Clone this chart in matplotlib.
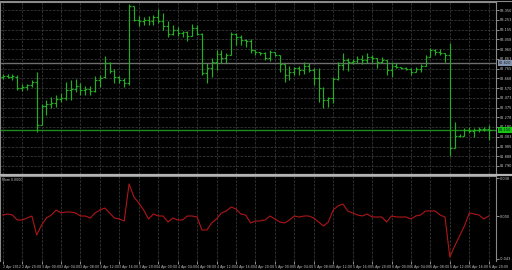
import matplotlib
matplotlib.use("Agg")
import matplotlib.pyplot as plt
import matplotlib.transforms as mtrans
from matplotlib.lines import Line2D

# ---------------- data (H1 bars) ----------------
bar_high = [82.71, 82.71, 82.71, 82.70, 82.61, 82.61, 82.65, 82.73, 82.41, 82.45,
            82.48, 82.50, 82.52, 82.63, 82.65, 82.66, 82.62, 82.59, 82.59, 82.69,
            82.70, 82.89, 82.83, 82.76, 82.69, 82.67, 83.41, 83.39, 83.29, 83.28,
            83.29, 83.30, 83.36, 83.32, 83.24, 83.20, 83.18, 83.14, 83.14, 83.21,
            83.20, 83.12, 82.82, 82.87, 82.95, 82.95, 82.92, 83.13, 83.12, 83.10,
            83.06, 83.06, 82.95, 82.93, 82.93, 82.95, 82.93, 82.90, 82.81, 82.79,
            82.78, 82.79, 82.83, 82.82, 82.77, 82.77, 82.58, 82.48, 82.68, 82.83,
            82.92, 82.87, 82.86, 82.89, 82.90, 82.92, 82.90, 82.87, 82.88, 82.85,
            82.83, 82.82, 82.78, 82.78, 82.77, 82.78, 82.81, 82.90, 82.97, 82.96,
            82.96, 82.92, 83.02, 82.23, 82.11, 82.17, 82.18, 82.17, 82.18, 82.18,
            82.20]
bar_low = [82.66, 82.67, 82.65, 82.55, 82.54, 82.55, 82.58, 82.13, 82.20, 82.30,
           82.37, 82.38, 82.43, 82.45, 82.45, 82.53, 82.50, 82.50, 82.50, 82.53,
           82.58, 82.67, 82.72, 82.62, 82.62, 82.58, 82.60, 83.24, 83.19, 83.20,
           83.20, 83.20, 83.22, 83.15, 83.08, 83.10, 83.09, 83.08, 83.04, 83.09,
           83.10, 82.70, 82.62, 82.68, 82.75, 82.82, 82.82, 82.90, 83.00, 83.00,
           82.98, 82.92, 82.90, 82.90, 82.85, 82.84, 82.89, 82.73, 82.63, 82.65,
           82.70, 82.70, 82.71, 82.73, 82.60, 82.43, 82.37, 82.38, 82.42, 82.65,
           82.75, 82.74, 82.81, 82.82, 82.81, 82.82, 82.82, 82.77, 82.82, 82.70,
           82.68, 82.77, 82.76, 82.75, 82.70, 82.73, 82.73, 82.79, 82.88, 82.90,
           82.90, 82.83, 81.89, 81.97, 82.08, 82.09, 82.12, 82.08, 82.13, 82.14,
           82.05]
bar_open = [82.68, 82.69, 82.68, 82.68, 82.57, 82.58, 82.60, 82.63, 82.20, 82.39,
            82.41, 82.42, 82.46, 82.47, 82.55, 82.56, 82.59, 82.55, 82.56, 82.54,
            82.65, 82.68, 82.82, 82.74, 82.68, 82.65, 82.62, 83.39, 83.25, 83.24,
            83.25, 83.24, 83.28, 83.24, 83.19, 83.11, 83.15, 83.12, 83.13, 83.09,
            83.17, 83.11, 82.72, 82.77, 82.83, 82.91, 82.87, 82.90, 83.11, 83.08,
            83.05, 83.04, 82.95, 82.93, 82.92, 82.87, 82.93, 82.90, 82.81, 82.70,
            82.73, 82.77, 82.75, 82.79, 82.75, 82.67, 82.57, 82.45, 82.47, 82.66,
            82.80, 82.85, 82.83, 82.84, 82.86, 82.85, 82.88, 82.87, 82.83, 82.85,
            82.75, 82.79, 82.78, 82.77, 82.76, 82.73, 82.76, 82.79, 82.88, 82.95,
            82.93, 82.92, 82.90, 81.97, 82.09, 82.09, 82.15, 82.14, 82.15, 82.16,
            82.16]
bar_close = [82.69, 82.68, 82.69, 82.57, 82.58, 82.60, 82.63, 82.20, 82.39, 82.41,
             82.42, 82.46, 82.47, 82.55, 82.56, 82.59, 82.55, 82.56, 82.54, 82.65,
             82.67, 82.82, 82.74, 82.68, 82.65, 82.62, 83.39, 83.25, 83.24, 83.25,
             83.24, 83.28, 83.24, 83.19, 83.11, 83.15, 83.12, 83.13, 83.09, 83.17,
             83.11, 82.72, 82.77, 82.83, 82.91, 82.87, 82.90, 83.11, 83.08, 83.05,
             83.04, 82.95, 82.93, 82.92, 82.87, 82.93, 82.90, 82.81, 82.70, 82.73,
             82.77, 82.75, 82.79, 82.75, 82.67, 82.57, 82.45, 82.47, 82.66, 82.80,
             82.85, 82.83, 82.84, 82.86, 82.85, 82.88, 82.87, 82.83, 82.85, 82.75,
             82.79, 82.78, 82.77, 82.76, 82.73, 82.76, 82.79, 82.88, 82.95, 82.93,
             82.92, 82.90, 81.97, 82.09, 82.09, 82.15, 82.14, 82.15, 82.16, 82.16,
             82.15]
mom_values = [0.001, 0.002, 0.001, -0.004, -0.004, -0.002, 0.000, -0.019, -0.009, -0.002,
              0.001, 0.006, 0.003, 0.004, 0.004, 0.003, 0.000, 0.000, -0.002, 0.003,
              0.006, 0.008, 0.003, -0.002, -0.003, -0.005, 0.032, 0.019, 0.013, 0.006,
              -0.003, 0.002, 0.000, 0.000, -0.006, -0.002, -0.004, -0.004, 0.000, 0.000,
              -0.001, -0.014, -0.014, -0.007, -0.003, 0.003, 0.005, 0.009, 0.007, 0.002,
              0.001, -0.007, -0.005, -0.005, -0.004, 0.000, -0.003, -0.006, -0.007, -0.004,
              0.000, -0.001, 0.000, 0.000, -0.002, -0.006, -0.010, -0.006, 0.006, 0.010,
              0.012, 0.005, 0.003, 0.001, 0.000, 0.002, -0.001, -0.001, -0.001, -0.006,
              0.000, -0.001, -0.001, -0.001, -0.003, 0.000, 0.001, 0.005, 0.005, 0.005,
              0.001, -0.001, -0.041, -0.030, -0.020, -0.010, 0.003, 0.002, 0.001, -0.003,
              0.000]
price_ticks = [83.350, 83.253, 83.155, 83.058, 82.960, 82.863, 82.765, 82.668, 82.570,
               82.473, 82.375, 82.278, 82.180, 82.083, 81.985, 81.888, 81.790]
mom_ticks = [0.038, 0.000, -0.043]
mom_tick_labels = ["0.038", "0.000", "-0.043"]
time_labels = ["2 Apr 2012", "2 Apr 20:00", "3 Apr 00:00", "3 Apr 04:00", "3 Apr 08:00",
               "3 Apr 12:00", "3 Apr 16:00", "3 Apr 20:00", "4 Apr 00:00", "4 Apr 04:00",
               "4 Apr 08:00", "4 Apr 12:00", "4 Apr 16:00", "4 Apr 20:00", "5 Apr 00:00",
               "5 Apr 04:00", "5 Apr 08:00", "5 Apr 12:00", "5 Apr 16:00", "5 Apr 20:00",
               "6 Apr 00:00", "6 Apr 04:00", "6 Apr 08:00", "6 Apr 12:00", "6 Apr 16:00",
               "6 Apr 20:00"]
hline_level = 82.82
indicator_title = "Mom 0.0000"

# ---------------- styling ----------------
BG = "black"
BAR = "#22b022"
GRID = "#363636"
TXT = "#c8c8c8"
FS_Y = 2.5
FS_X = 2.3

W, H = 512, 270
fig = plt.figure(figsize=(W / 100, H / 100), dpi=100, facecolor=BG)

ax1 = fig.add_axes([0, (H - 174) / H, 496 / W, 172 / H], facecolor=BG)
ax2 = fig.add_axes([0, (H - 261) / H, 496 / W, 85 / H], facecolor=BG)

n = len(bar_close)
xs = list(range(n))
tick_pos = list(range(0, n, 4))

for ax in (ax1, ax2):
    ax.set_xlim(-0.556, 101.5)
    for s in ax.spines.values():
        s.set_color("#8a8a8a")
        s.set_linewidth(0.8)
    ax.spines["bottom"].set_visible(False)
    ax.set_xticks(tick_pos)
    for xp in tick_pos:
        ax.axvline(xp, color=GRID, lw=0.6, ls=(0, (3, 1.5)), zorder=0)

# main price panel
ax1.set_ylim(81.71, 83.43)
for p in price_ticks:
    ax1.axhline(p, color=GRID, lw=0.6, ls=(0, (3, 1.5)), zorder=0)
ax1.vlines(xs, bar_low, bar_high, color=BAR, lw=0.85, zorder=3)
ax1.hlines(bar_open, [x - 0.4 for x in xs], xs, color=BAR, lw=0.85, zorder=3)
ax1.hlines(bar_close, xs, [x + 0.4 for x in xs], color=BAR, lw=0.85, zorder=3)
ax1.axhline(hline_level, color="#6e6e6e", lw=1.0, zorder=2)
ax1.axhline(bar_close[-1], color="#1d8a1d", lw=1.0, zorder=2)

ax1.yaxis.tick_right()
ax1.set_yticks(price_ticks)
ax1.set_yticklabels([f"{p:.3f}" for p in price_ticks])
ax1.tick_params(axis="y", colors=TXT, labelsize=FS_Y, length=2, width=0.5, pad=1)
ax1.tick_params(axis="x", length=0, labelbottom=False)

blend1 = mtrans.blended_transform_factory(ax1.transAxes, ax1.transData)
ax1.text(1.006, hline_level, f"{hline_level:.3f}", transform=blend1, fontsize=FS_Y,
         color="#1a1a1a", va="center", ha="left",
         bbox=dict(facecolor="#8394b0", edgecolor="none", pad=0.5))
ax1.text(1.006, bar_close[-1], f"{bar_close[-1]:.3f}", transform=blend1, fontsize=FS_Y,
         color="#0a0a0a", va="center", ha="left",
         bbox=dict(facecolor="#17c417", edgecolor="none", pad=0.5))

# indicator panel
ax2.set_ylim(-0.045, 0.040)
ax2.plot(xs, mom_values, color="#b01616", lw=0.8, zorder=3)
ax2.yaxis.tick_right()
ax2.set_yticks(mom_ticks)
ax2.set_yticklabels(mom_tick_labels)
ax2.tick_params(axis="y", colors=TXT, labelsize=FS_Y, length=2, width=0.5, pad=1)
ax2.set_xticklabels(time_labels)
ax2.tick_params(axis="x", colors=TXT, labelsize=FS_X, length=2, width=0.5, pad=0.8)
for lbl in ax2.get_xticklabels():
    lbl.set_ha("left")
ax2.text(0.005, 0.975, indicator_title, transform=ax2.transAxes, fontsize=FS_X,
         color=TXT, va="top", ha="left")

# window separator
fig.add_artist(Line2D([0, 1], [(H - 175) / H] * 2, transform=fig.transFigure,
                      color="#b4b4b4", lw=1.6))
fig.add_artist(Line2D([0, 1], [(H - 1) / H] * 2, transform=fig.transFigure,
                      color="#8a8a8a", lw=0.8))

fig.savefig("out.png", dpi=100, facecolor=BG)
